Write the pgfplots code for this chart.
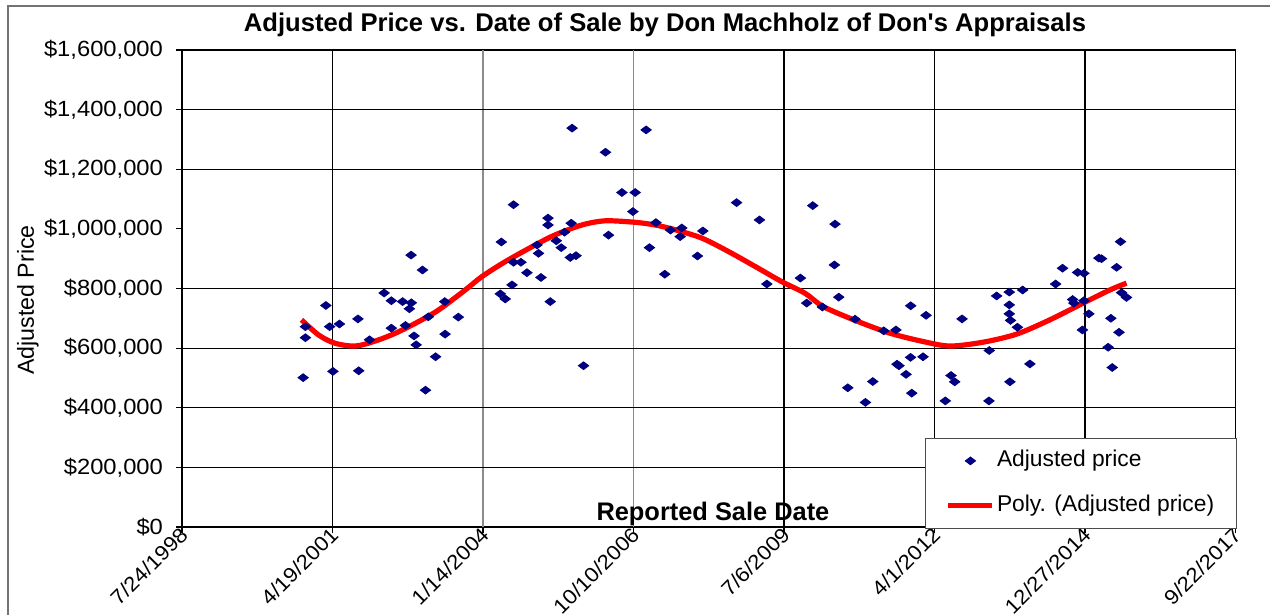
\documentclass[border=0pt]{standalone}
\usepackage{pgfplots}
\pgfplotsset{compat=1.18}
\usepackage{fontspec}
\setmainfont{Liberation Sans}
\newfontfamily\widefont[FakeStretch=1.08]{Liberation Sans}
\definecolor{navy}{RGB}{0,0,128}
\definecolor{exred}{RGB}{255,0,0}
\pgfplotsset{
  legmark/.style={legend image code/.code={\draw[mark repeat=2, mark phase=2, ##1] plot coordinates {(0pt,0pt) (11pt,0pt) (22pt,0pt)};}},
  legline/.style={legend image code/.code={\draw[##1] (0pt,0pt) -- (22pt,0pt);}}
}

\begin{document}
\begin{tikzpicture}
\useasboundingbox (-91pt,-44pt) rectangle (544pt,263.5pt);
\draw[black!55, line width=0.6pt] (-87pt,-60pt) -- (-87pt,260.5pt) -- (560pt,260.5pt);
\begin{axis}[
  at={(0pt,0pt)}, anchor=south west,
  scale only axis, width=526.75pt, height=238.5pt,
  xmin=36000, xmax=43000, ymin=0, ymax=1600000,
  axis line style={black, line width=0.7pt},
  tick align=outside, major tick length=3pt,
  xtick pos=bottom, ytick pos=left,
  tick style={black, line width=0.6pt},
  xtick={36000,37000,40000,41000,42000,43000},
  xticklabels={7/24/1998,4/19/2001,7/6/2009,4/1/2012,12/27/2014,9/22/2017},
  extra x ticks={38000,39000},
  extra x tick labels={1/14/2004,10/10/2006},
  xmajorgrids,
  grid style={black, line width=0.6pt},
  extra x tick style={xmajorgrids=true, grid style={black!45, line width=0.8pt}},
  xticklabel style={font=\widefont\fontsize{10.3}{12}\selectfont, rotate=45, anchor=east, inner sep=0.5pt, xshift=2pt},
  ytick={0,200000,400000,600000,800000,1000000,1200000,1400000,1600000},
  yticklabels={\$0,{\$200,000},{\$400,000},{\$600,000},{\$800,000},{\$1,000,000},{\$1,200,000},{\$1,400,000},{\$1,600,000}},
  ymajorgrids=false,
  extra y ticks={200000,400000,600000,800000,1200000,1400000},
  extra y tick labels={},
  extra y tick style={ymajorgrids=true, grid style={black, line width=0.6pt}},
  yticklabel style={font=\widefont\fontsize{11}{13}\selectfont, xshift=-3pt},
  scaled y ticks=false,
  title={Adjusted Price vs. Date of Sale by Don Machholz of Don\textquotesingle s Appraisals},
  title style={at={(axis description cs:0.4585,1.0524)}, anchor=center, yshift=0pt, font=\fontsize{12.8}{15}\selectfont\bfseries},
  every axis title shift=0pt,
  xlabel={Reported Sale Date},
  xlabel style={at={(axis description cs:0.504,0.028)}, anchor=center, font=\fontsize{12.7}{14}\selectfont\bfseries},
  ylabel={Adjusted Price},
  ylabel style={at={(axis description cs:-0.1462,0.476)}, anchor=center, rotate=0, font=\fontsize{11.6}{13}\selectfont},
  legend style={at={(1.001,0.1866)}, anchor=north east, draw=black!70, fill=white,
    font=\fontsize{11.4}{13}\selectfont, inner xsep=10pt, inner ysep=5pt,
    nodes={inner sep=1pt, text height=8pt, text depth=2.5pt},
    row sep=10pt},
  legend cell align=left,
]
\addplot[only marks, mark=diamond*, mark size=2.6pt,
  mark options={rotate=90, fill=navy, draw=navy}, legmark]
  table[row sep=\\] {
x y\\
36805 501000\\
36820 635000\\
36820 672000\\
36956 743000\\
36981 672000\\
37003 522000\\
37046 681000\\
37169 698000\\
37174 524000\\
37246 628000\\
37343 785000\\
37391 759000\\
37391 667000\\
37466 756000\\
37522 912000\\
37524 752000\\
37511 732000\\
37485 676000\\
37542 641000\\
37556 611000\\
37598 862000\\
37618 459000\\
37637 705000\\
37685 571000\\
37748 647000\\
37746 756000\\
37836 704000\\
38122 956000\\
38203 1081000\\
38115 782000\\
38148 765000\\
38193 812000\\
38203 888000\\
38252 888000\\
38292 853000\\
38369 918000\\
38359 946000\\
38385 837000\\
38432 1036000\\
38432 1013000\\
38447 756000\\
38487 960000\\
38520 937000\\
38542 989000\\
38586 1019000\\
38580 904000\\
38618 910000\\
38592 1338000\\
38668 541000\\
38814 1257000\\
38834 979000\\
38923 1122000\\
39011 1122000\\
38996 1058000\\
39084 1332000\\
39106 937000\\
39149 1021000\\
39208 848000\\
39246 996000\\
39321 1003000\\
39310 974000\\
39425 909000\\
39461 993000\\
39685 1088000\\
39837 1030000\\
39886 815000\\
40109 835000\\
40191 1078000\\
40339 1016000\\
40335 879000\\
40364 771000\\
40151 751000\\
40255 738000\\
40472 697000\\
40663 658000\\
40744 661000\\
40842 742000\\
40944 710000\\
41183 698000\\
40751 546000\\
40764 541000\\
40841 569000\\
40924 571000\\
40811 512000\\
40590 488000\\
40424 467000\\
40541 418000\\
40849 449000\\
41072 423000\\
41110 508000\\
41134 487000\\
41362 423000\\
41364 592000\\
41413 775000\\
41497 788000\\
41497 745000\\
41497 715000\\
41505 693000\\
41551 670000\\
41586 795000\\
41501 487000\\
41634 547000\\
41805 815000\\
41851 868000\\
41918 763000\\
41926 751000\\
41951 854000\\
41993 851000\\
41993 759000\\
42026 715000\\
41983 661000\\
42092 902000\\
42110 900000\\
42210 871000\\
42236 957000\\
42172 700000\\
42226 653000\\
42154 603000\\
42181 535000\\
42243 786000\\
42276 770000\\
};
\addlegendentry{Adjusted price}
\addplot[exred, line width=2.6pt, smooth, no marks, legline]
  table[row sep=\\] {
x y\\
36794 695000\\
36908 644000\\
37019 616000\\
37152 607000\\
37285 624000\\
37418 650000\\
37572 689000\\
37705 728000\\
37882 795000\\
37993 840000\\
38148 890000\\
38347 946000\\
38480 980000\\
38657 1013000\\
38812 1027000\\
39011 1022000\\
39144 1013000\\
39277 997000\\
39454 969000\\
39631 924000\\
39808 874000\\
39985 823000\\
40140 784000\\
40262 739000\\
40483 691000\\
40705 650000\\
40926 622000\\
41103 607000\\
41324 620000\\
41546 647000\\
41767 695000\\
41988 751000\\
42165 795000\\
42276 818000\\
};
\addlegendentry{Poly. (Adjusted price)}
\end{axis}
\end{tikzpicture}
\end{document}
